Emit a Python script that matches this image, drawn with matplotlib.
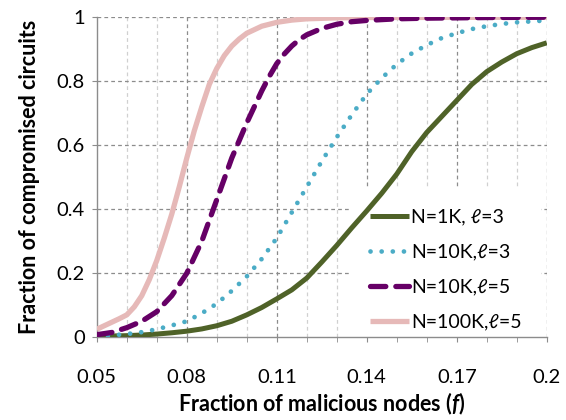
import numpy as np
import matplotlib
matplotlib.use("Agg")
import matplotlib.pyplot as plt
from matplotlib.ticker import FixedLocator

plt.rcParams['font.family'] = ['Lato', 'DejaVu Sans']
plt.rcParams['mathtext.fontset'] = 'custom'
plt.rcParams['mathtext.it'] = 'Lato:italic:bold'

# fraction of malicious nodes (shared grid for the l=3 series)
f = [0.05, 0.055, 0.06, 0.065, 0.07, 0.075, 0.08, 0.085, 0.09, 0.095,
     0.10, 0.105, 0.11, 0.115, 0.12, 0.125, 0.13, 0.135, 0.14, 0.145,
     0.15, 0.155, 0.16, 0.165, 0.17, 0.175, 0.18, 0.185, 0.19, 0.195, 0.20]

n1k_l3 = [0.003, 0.004, 0.005, 0.007, 0.010, 0.014, 0.019, 0.026, 0.036, 0.050,
          0.070, 0.093, 0.120, 0.148, 0.185, 0.235, 0.287, 0.342, 0.395, 0.450,
          0.510, 0.580, 0.640, 0.690, 0.740, 0.790, 0.830, 0.860, 0.886, 0.905, 0.920]

n10k_l3 = [0.003, 0.006, 0.010, 0.016, 0.025, 0.037, 0.050, 0.075, 0.105, 0.145,
           0.190, 0.245, 0.310, 0.390, 0.470, 0.550, 0.625, 0.695, 0.760, 0.810,
           0.853, 0.887, 0.913, 0.935, 0.950, 0.963, 0.972, 0.979, 0.984, 0.987, 0.990]

# l=5 curves are steeper, read at more points
f_n10k_l5 = [0.05, 0.055, 0.06, 0.065, 0.07, 0.075, 0.08, 0.085, 0.09, 0.095,
             0.10, 0.105, 0.1075, 0.11, 0.1125, 0.115, 0.1175, 0.12, 0.125,
             0.13, 0.135, 0.14, 0.15, 0.16, 0.17, 0.18, 0.20]
n10k_l5 = [0.008, 0.015, 0.030, 0.050, 0.080, 0.130, 0.200, 0.300, 0.430, 0.560,
           0.670, 0.770, 0.815, 0.855, 0.885, 0.910, 0.930, 0.945, 0.965,
           0.978, 0.986, 0.990, 0.995, 0.997, 0.998, 0.999, 1.0]

f_n100k_l5 = [0.05, 0.0575, 0.06, 0.0625, 0.065, 0.0675, 0.07, 0.0725, 0.075,
              0.0775, 0.08, 0.0825, 0.085, 0.0875, 0.09, 0.0925, 0.095, 0.0975,
              0.10, 0.105, 0.11, 0.115, 0.12, 0.13, 0.14, 0.20]
n100k_l5 = [0.025, 0.058, 0.070, 0.095, 0.130, 0.180, 0.240, 0.310, 0.385,
            0.470, 0.560, 0.645, 0.720, 0.790, 0.840, 0.880, 0.910, 0.932,
            0.950, 0.972, 0.984, 0.991, 0.995, 0.998, 0.999, 1.0]

xticks = [0.05, 0.08, 0.11, 0.14, 0.17, 0.2]
xticklabels = ['0.05', '0.08', '0.11', '0.14', '0.17', '0.2']
yticks = [0, 0.2, 0.4, 0.6, 0.8, 1.0]
yticklabels = ['0', '0.2', '0.4', '0.6', '0.8', '1']

fig = plt.figure(figsize=(5.66, 4.2), dpi=100)
ax = fig.add_axes([0.171, 0.197, 0.795, 0.762])

# grid: light minor verticals, darker majors
for xm in np.arange(0.06, 0.2, 0.01):
    if min(abs(xm - t) for t in xticks) > 1e-6:
        ax.axvline(xm, color='#d0d0d0', lw=0.9, ls=(0, (3, 2.5)), zorder=0)
for xt in xticks[1:]:
    ax.axvline(xt, color='#8c8c8c', lw=0.9, ls=(0, (3, 2.5)), zorder=0)
for yt in yticks[1:]:
    ax.axhline(yt, color='#8c8c8c', lw=0.9, ls=(0, (3, 2.5)), zorder=0)

ax.plot(f, n1k_l3, color='#4F6228', lw=3.6, solid_capstyle='butt',
        solid_joinstyle='round', label='N=1K, ℓ=3', zorder=4)
ax.plot(f, n10k_l3, color='#4BACC6', lw=3.4, ls=(0, (0.01, 2.35)),
        dash_capstyle='round', label='N=10K,ℓ=3', zorder=4)
ax.plot(f_n10k_l5, n10k_l5, color='#660066', lw=3.8, ls=(0, (2.9, 1.9)),
        dash_capstyle='round', label='N=10K,ℓ=5', zorder=5)
ax.plot(f_n100k_l5, n100k_l5, color='#E6B9B8', lw=3.8, solid_capstyle='butt',
        solid_joinstyle='round', label='N=100K,ℓ=5', zorder=3)

ax.set_xlim(0.05, 0.2)
ax.set_ylim(0, 1)
ax.set_xticks(xticks)
ax.set_xticklabels(xticklabels, fontsize=14.5)
ax.set_yticks(yticks)
ax.set_yticklabels(yticklabels, fontsize=14.5)
ax.xaxis.set_minor_locator(FixedLocator(np.arange(0.05, 0.2001, 0.01)))
ax.tick_params(axis='x', which='both', direction='out', length=3.6,
               color='#8c8c8c', pad=19)
ax.tick_params(axis='y', which='major', direction='out', length=3.6,
               color='#8c8c8c', pad=5)

for side in ['top', 'right']:
    ax.spines[side].set_visible(False)
for side in ['left', 'bottom']:
    ax.spines[side].set_color('#8c8c8c')
    ax.spines[side].set_linewidth(1.0)

ax.set_xlabel('Fraction of malicious nodes ($f$)', fontsize=15.5,
              fontweight='bold', labelpad=4)
ax.set_ylabel('Fraction of compromised circuits', fontsize=15.5,
              fontweight='bold', labelpad=12)

# legend box hides the grid but sits under the curves
leg = ax.legend(loc='upper left', bbox_to_anchor=(0.564, 0.462), fontsize=14,
                frameon=True, facecolor='white', edgecolor='none',
                framealpha=1.0, handlelength=2.0, handletextpad=0.1,
                labelspacing=0.92, borderpad=1.0, borderaxespad=0.0)
leg.set_zorder(1)

fig.savefig('out.png', dpi=100)
